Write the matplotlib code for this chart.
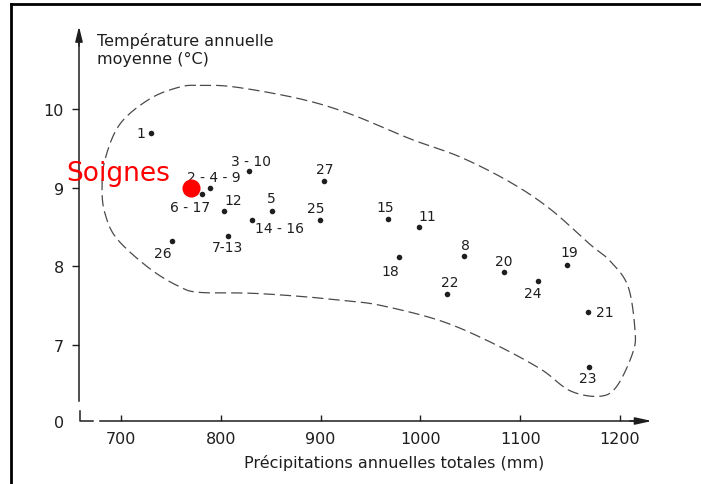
import numpy as np
import matplotlib
matplotlib.use("Agg")
import matplotlib.pyplot as plt
from matplotlib.lines import Line2D

# stations: annual precipitation (mm) vs mean annual temperature (°C)
stations = ["1", "2 - 4 - 9", "3 - 10", "6 - 17", "27", "12", "5", "14 - 16", "25",
            "7-13", "26", "15", "11", "18", "8", "20", "22", "19", "24", "21", "23"]
precip = [730, 789, 828, 781, 903, 803, 851, 831, 899,
          807, 751, 968, 999, 979, 1044, 1084, 1027, 1147, 1118, 1168, 1169]
temp = [9.70, 9.00, 9.21, 8.92, 9.09, 8.70, 8.70, 8.59, 8.59,
        8.39, 8.32, 8.60, 8.50, 8.12, 8.13, 7.93, 7.65, 8.02, 7.81, 7.42, 6.72]

highlight_name = "Soignes"
highlight_precip = 770
highlight_temp = 9.00

# outline of the station cluster (closed)
env_precip = [779, 814, 879, 929, 990, 1040, 1090, 1130, 1170, 1190, 1208, 1215, 1213,
              1197, 1180, 1150, 1120, 1070, 1020, 962, 929, 879, 829, 779, 759, 729,
              696, 684, 681, 684, 699, 729, 759]
env_temp = [10.30, 10.28, 10.13, 9.94, 9.62, 9.39, 9.07, 8.73, 8.28, 8.07, 7.75, 7.20, 6.91,
            6.48, 6.35, 6.42, 6.70, 7.04, 7.31, 7.50, 7.56, 7.62, 7.66, 7.67, 7.74, 7.97,
            8.35, 8.67, 8.98, 9.36, 9.81, 10.13, 10.28]

x_ticks = [700, 800, 900, 1000, 1100, 1200]
y_ticks = [6.036, 7, 8, 9, 10]
y_tick_labels = ["0", "7", "8", "9", "10"]

# label offsets in pixels (dx, dy) relative to each dot
label_offsets = [(-10, 0), (4, 11), (2, 10), (-12, -13), (1, 12), (9, 11), (0, 13), (28, -8),
                 (-4, 12), (0, -11), (-9, -12), (-3, 12), (8, 11), (-9, -14), (1, 11),
                 (0, 11), (2, 12), (2, 13), (-5, -12), (17, 0), (-1, -11)]

INK = "#1e1e1e"


def closed_spline(xs, ys, n=24):
    pts = np.column_stack([xs, ys]).astype(float)
    m = len(pts)
    t = np.linspace(0, 1, n, endpoint=False)[:, None]
    segs = []
    for i in range(m):
        p0, p1, p2, p3 = pts[i - 1], pts[i], pts[(i + 1) % m], pts[(i + 2) % m]
        segs.append(0.5 * (2 * p1 + (-p0 + p2) * t
                           + (2 * p0 - 5 * p1 + 4 * p2 - p3) * t ** 2
                           + (-p0 + 3 * p1 - 3 * p2 + p3) * t ** 3))
    segs.append(segs[0][:1])
    out = np.vstack(segs)
    return out[:, 0], out[:, 1]


plt.rcParams["font.family"] = "DejaVu Sans"

W, H = 701, 485
fig = plt.figure(figsize=(W / 100, H / 100), dpi=100)
fig.patch.set_facecolor("white")
ax = fig.add_axes([79 / W, (H - 422) / H, (650 - 79) / W, (422 - 28) / H])
ax.set_xlim(657.9, 1230.1)
ax.set_ylim(6.036, 11.042)
ax.patch.set_alpha(0)

for side in ("top", "right"):
    ax.spines[side].set_visible(False)
ax.spines["left"].set_bounds(6.29, 10.85)
ax.spines["bottom"].set_bounds(679, 1215)
for side in ("left", "bottom"):
    ax.spines[side].set_color(INK)
    ax.spines[side].set_linewidth(1.1)

# arrow heads on both axes
ax.annotate("", xy=(657.9, 11.05), xytext=(657.9, 10.8),
            arrowprops=dict(arrowstyle="-|>,head_length=0.9,head_width=0.22",
                            color=INK, lw=1.1, shrinkA=0, shrinkB=0),
            annotation_clip=False)
ax.annotate("", xy=(1232, 6.036), xytext=(1210, 6.036),
            arrowprops=dict(arrowstyle="-|>,head_length=1.0,head_width=0.22",
                            color=INK, lw=1.1, shrinkA=0, shrinkB=0),
            annotation_clip=False)

# axis break mark
ax.plot([659, 659, 672], [6.16, 6.036, 6.036], color=INK, lw=1.1, clip_on=False)

ax.set_xticks(x_ticks)
ax.set_xticklabels([str(v) for v in x_ticks])
ax.set_yticks(y_ticks)
ax.set_yticklabels(y_tick_labels)
ax.tick_params(axis="x", direction="in", length=4, width=1, colors=INK,
               labelsize=11.5, pad=7)
ax.tick_params(axis="y", direction="out", length=5, width=1, colors=INK,
               labelsize=11.5, pad=6)
ax.yaxis.get_major_ticks()[0].tick1line.set_visible(False)

# cluster envelope
ex, ey = closed_spline(env_precip, env_temp)
ax.plot(ex, ey, color="#4a4a4a", lw=0.9, dashes=(9, 4), clip_on=False)

# stations
ax.scatter(precip, temp, s=16, color=INK, zorder=3, linewidths=0)
for name, x, y, (dx, dy) in zip(stations, precip, temp, label_offsets):
    ax.annotate(name, (x, y), xytext=(dx, dy), textcoords="offset pixels",
                ha="center", va="center", fontsize=10, color=INK)

ax.scatter([highlight_precip], [highlight_temp], s=170, color="#ff0000",
           zorder=5, linewidths=0)
ax.annotate(highlight_name, (highlight_precip, highlight_temp), xytext=(-21, 8),
            textcoords="offset pixels", ha="right", va="baseline",
            fontsize=19, color="#ff0000", zorder=6)

fig.text(97 / W, 1 - 33 / H, "Température annuelle\nmoyenne (°C)", ha="left", va="top",
         fontsize=11.5, color=INK, linespacing=1.25)
fig.text(394 / W, 1 - 463 / H, "Précipitations annuelles totales (mm)", ha="center",
         va="center", fontsize=11.5, color=INK)

# page frame
fig.add_artist(Line2D([11 / W, 1], [1 - 5 / H, 1 - 5 / H], transform=fig.transFigure,
                      color="black", lw=2))
fig.add_artist(Line2D([11 / W, 11 / W], [0, 1 - 5 / H], transform=fig.transFigure,
                      color="black", lw=2))

fig.savefig("out.png", dpi=100, facecolor="white")
